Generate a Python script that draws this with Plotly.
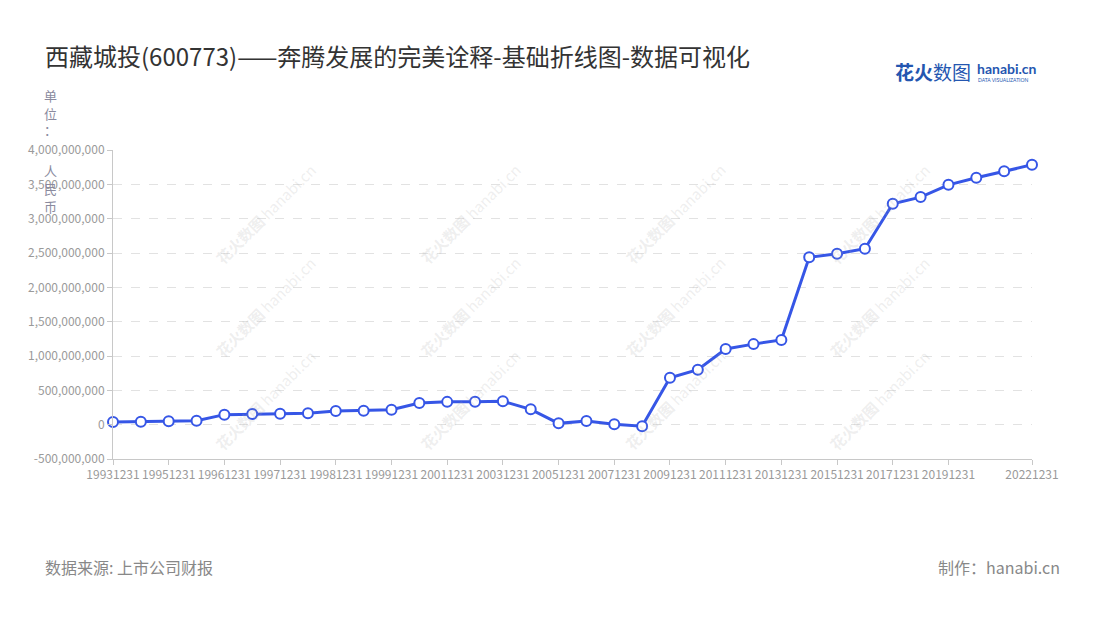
import plotly.graph_objects as go

# ---- data ----
dates = ["19931231", "19941231", "19951231", "19960630", "19961231", "19970630",
         "19971231", "19980630", "19981231", "19990630", "19991231", "20001231",
         "20011231", "20021231", "20031231", "20041231", "20051231", "20061231",
         "20071231", "20081231", "20091231", "20101231", "20111231", "20121231",
         "20131231", "20141231", "20151231", "20161231", "20171231", "20181231",
         "20191231", "20201231", "20211231", "20221231"]
values = [40e6, 44e6, 49e6, 58e6, 146e6, 155e6,
          160e6, 165e6, 199e6, 204e6, 218e6, 316e6,
          332e6, 335e6, 340e6, 223e6, 19e6, 53e6,
          5e6, -22e6, 684e6, 801e6, 1102e6, 1173e6,
          1234e6, 2437e6, 2490e6, 2563e6, 3217e6, 3314e6,
          3493e6, 3595e6, 3692e6, 3784e6]
x_tick_labels = ["19931231", "19951231", "19961231", "19971231", "19981231",
                 "19991231", "20011231", "20031231", "20051231", "20071231",
                 "20091231", "20111231", "20131231", "20151231", "20171231",
                 "20191231", "20221231"]
y_ticks = [-500000000, 0, 500000000, 1000000000, 1500000000, 2000000000,
           2500000000, 3000000000, 3500000000, 4000000000]

title_text = "西藏城投(600773)——奔腾发展的完美诠释-基础折线图-数据可视化"
unit_chars = ["单", "位", "：", "人", "民", "币"]
source_text = "数据来源: 上市公司财报"
maker_text = "制作：hanabi.cn"

FONT = "Noto Sans CJK SC, Noto Sans, sans-serif"
BLUE = "#3656e6"

fig = go.Figure()
fig.add_trace(go.Scatter(
    x=dates, y=values, mode="lines+markers",
    line=dict(color=BLUE, width=3),
    marker=dict(size=10, color="white", line=dict(color=BLUE, width=2)),
    cliponaxis=False, showlegend=False,
))

W, H = 1100, 620
L, R, T, B = 113, 68, 150, 161

fig.update_layout(
    width=W, height=H,
    margin=dict(l=L, r=R, t=T, b=B),
    paper_bgcolor="white", plot_bgcolor="white",
    font=dict(family=FONT, color="#999999", size=12),
    xaxis=dict(
        type="category", range=[0, len(dates) - 1],
        tickmode="array", tickvals=x_tick_labels, ticktext=x_tick_labels,
        showgrid=False, zeroline=False,
        showline=True, linecolor="#c8c8c8", linewidth=1,
        ticks="outside", ticklen=5, tickcolor="#c8c8c8",
        tickfont=dict(size=12, color="#9a9a9a"), tickangle=0,
    ),
    yaxis=dict(
        range=[-500000000, 4000000000],
        tickmode="array", tickvals=y_ticks,
        ticktext=[f"{v:,}" for v in y_ticks],
        showgrid=True, gridcolor="#e2e2e2", griddash="dash", gridwidth=1,
        zeroline=False,
        showline=True, linecolor="#c8c8c8", linewidth=1,
        ticks="outside", ticklen=5, tickcolor="#c8c8c8",
        tickfont=dict(size=12, color="#9a9a9a"),
    ),
)

ann = []
# watermarks
for cx in [183, 428, 673, 918]:
    for cy in [127, 314, 501]:
        ann.append(dict(
            x=cx / W, y=1 - cy / H, xref="paper", yref="paper",
            xanchor="center", yanchor="middle", showarrow=False,
            text="<b>花火数图</b> hanabi.cn", textangle=-45,
            font=dict(family=FONT, size=15, color="rgba(170,170,170,0.2)"),
        ))

def px(x, y):
    return dict(x=(x - L) / (W - L - R), y=(H - B - y) / (H - T - B),
                xref="paper", yref="paper", showarrow=False)

ann.append(dict(**px(43, 55), text=title_text, xanchor="left", yanchor="middle",
                font=dict(family=FONT, size=24, color="#333333")))
for ch, cy in zip(unit_chars, [95, 113, 129, 170, 188, 206]):
    ann.append(dict(**px(50, cy), text=ch, xanchor="center", yanchor="middle",
                    font=dict(family=FONT, size=13, color="#8a8a9e")))
ann.append(dict(**px(43, 567), text=source_text, xanchor="left", yanchor="middle",
                font=dict(family=FONT, size=16, color="#888888")))
ann.append(dict(**px(1062, 567), text=maker_text, xanchor="right", yanchor="middle",
                font=dict(family=FONT, size=16, color="#888888")))
# logo
ann.append(dict(**px(893, 72), text="<b>花火</b>数图", xanchor="left", yanchor="middle",
                font=dict(family=FONT, size=19, color="#2456b0")))
ann.append(dict(**px(975, 69), text="<b>hanabi.cn</b>", xanchor="left", yanchor="middle",
                font=dict(family="Lato, sans-serif", size=14, color="#2456b0")))
ann.append(dict(**px(976, 80), text="DATA VISUALIZATION", xanchor="left", yanchor="middle",
                font=dict(family="Lato, sans-serif", size=5, color="#2456b0")))
fig.update_layout(annotations=ann)

fig.write_html("out.html", config={"displayModeBar": False},
               post_script="document.body.style.margin='0';document.body.style.padding='0';")
